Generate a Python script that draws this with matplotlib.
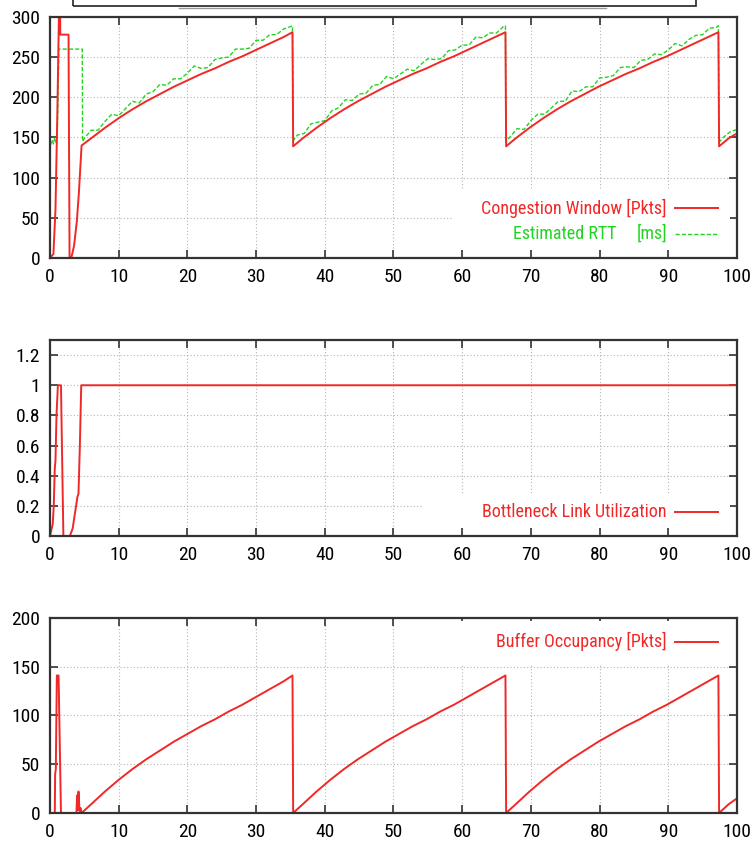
"""Congestion window, link utilization and buffer occupancy over time."""
import matplotlib
matplotlib.use("Agg")
import matplotlib.pyplot as plt
from matplotlib.lines import Line2D
from matplotlib.patches import Rectangle
from matplotlib.ticker import FormatStrFormatter, MultipleLocator

plt.rcParams["font.family"] = ["Roboto Condensed", "Liberation Sans", "DejaVu Sans"]

RED = "#f02828"
GREEN = "#22d422"
FRAME = "#333333"

# Congestion window [pkts]
cwnd_t = [0, 0.5, 0.8, 1.05, 1.3, 1.35, 1.45, 1.5, 2.7, 2.85,
          3.1, 3.5, 3.9, 4.2, 4.6,
          6, 8, 10, 12, 14, 16, 18, 20, 22, 24, 26, 28, 30, 32, 34, 35.3,
          35.4, 36.8, 38.8, 40.8, 42.8, 44.8, 46.8, 48.8, 50.8, 52.8, 54.8,
          56.8, 58.8, 60.8, 62.8, 64.8, 66.3,
          66.4, 67.8, 69.8, 71.8, 73.8, 75.8, 77.8, 79.8, 81.8, 83.8, 85.8,
          87.8, 89.8, 91.8, 93.8, 95.8, 97.3,
          97.4, 98.8, 100]
cwnd = [0, 5, 60, 170, 300, 330, 330, 278, 278, 0,
        0, 15, 45, 80, 140,
        149, 162, 174, 185, 195, 204, 213, 221, 229, 236, 244, 251, 259,
        267, 275, 281,
        139, 149, 162, 174, 185, 195, 204, 213, 221, 229, 236, 244, 251,
        259, 267, 275, 281,
        139, 149, 162, 174, 185, 195, 204, 213, 221, 229, 236, 244, 251,
        259, 267, 275, 281,
        139, 149, 155]

# Estimated RTT [ms]
rtt_t = ([0, 0.05, 0.3, 0.5, 0.7, 0.9, 1.05, 1.3, 4.7, 4.75]
         + list(range(5, 36)) + [35.3, 35.4]
         + list(range(36, 67)) + [66.3, 66.4]
         + list(range(67, 98)) + [97.3, 97.4, 98, 99, 100])
rtt = ([0, 140, 147, 142, 150, 144, 150, 260, 260, 145]
       + [149, 159, 159, 170, 179, 177, 186, 195, 193, 204, 207, 216, 215,
          223, 223, 230, 239, 236, 237, 247, 249, 250, 260, 260, 261, 271,
          271, 278, 278, 285, 288]
       + [289, 146]
       + [153, 155, 167, 169, 171, 183, 187, 197, 196, 204, 205, 215, 216,
          226, 223, 229, 235, 233, 241, 248, 247, 248, 258, 259, 265, 265,
          275, 274, 280, 280, 288]
       + [289, 145]
       + [151, 161, 160, 171, 179, 179, 187, 195, 195, 208, 207, 213, 213,
          224, 225, 227, 237, 238, 237, 246, 247, 254, 253, 259, 267, 264,
          272, 277, 278, 286, 287]
       + [289, 144, 150, 157, 160])

# Bottleneck link utilization
util_t = [0, 0.4, 0.55, 0.7, 0.8, 0.95, 1.15, 1.6, 1.95, 2.9,
          3.3, 3.7, 4.0, 4.15, 4.35, 4.55, 100]
util = [0, 0.08, 0.2, 0.45, 0.5, 0.8, 1.0, 1.0, 0, 0,
        0.05, 0.17, 0.26, 0.28, 0.6, 1.0, 1.0]

# Buffer occupancy [pkts]
buf_t = [0, 0.7, 0.75, 0.85, 1.0, 1.25, 1.6,
         3.85, 3.95, 4.05, 4.15, 4.3, 4.45, 4.6,
         6, 8, 10, 12, 14, 16, 18, 20, 22, 24, 26, 28, 30, 32, 34, 35.3,
         35.4, 36.8, 38.8, 40.8, 42.8, 44.8, 46.8, 48.8, 50.8, 52.8, 54.8,
         56.8, 58.8, 60.8, 62.8, 64.8, 66.3,
         66.4, 67.8, 69.8, 71.8, 73.8, 75.8, 77.8, 79.8, 81.8, 83.8, 85.8,
         87.8, 89.8, 91.8, 93.8, 95.8, 97.3,
         97.4, 98.8, 100]
buf = [0, 0, 40, 45, 141, 141, 0,
       0, 18, 3, 22, 2, 5, 0,
       9, 22, 34, 45, 55, 64, 73, 81, 89, 96, 104, 111, 119, 127, 135, 141,
       0, 9, 22, 34, 45, 55, 64, 73, 81, 89, 96, 104, 111, 119, 127, 135, 141,
       0, 9, 22, 34, 45, 55, 64, 73, 81, 89, 96, 104, 111, 119, 127, 135, 141,
       0, 9, 15]


def style_axes(ax, ymax, ystep, fmt):
    """gnuplot look: inward mirrored ticks, dotted grey grid."""
    ax.set_xlim(0, 100)
    ax.set_ylim(0, ymax)
    ax.xaxis.set_major_locator(MultipleLocator(10))
    ax.yaxis.set_major_locator(MultipleLocator(ystep))
    ax.yaxis.set_major_formatter(FormatStrFormatter(fmt))
    ax.set_axisbelow(True)
    ax.grid(True, color="#b4b4b4", linestyle=(0, (1, 2)), linewidth=0.8)
    ax.tick_params(direction="in", length=6, width=1.2, color=FRAME,
                   top=True, right=True, labelsize=14, pad=7)
    for side in ax.spines.values():
        side.set_color(FRAME)
        side.set_linewidth(1.6)


def key_box(ax, x0, y0, x1, y1):
    """White patch that hides the grid behind the key, as gnuplot does."""
    ax.add_patch(Rectangle((x0, y0), x1 - x0, y1 - y0, transform=ax.transAxes,
                           facecolor="white", edgecolor="none", zorder=1))


def key_row(ax, y, label, color, **line_kw):
    ax.text(0.898, y, label, transform=ax.transAxes, ha="right", va="center",
            color=color, fontsize=13, zorder=3)
    ax.plot([0.910, 0.972], [y, y], transform=ax.transAxes, color=color,
            zorder=3, **line_kw)


fig = plt.figure(figsize=(7.55, 8.52), dpi=100)

ax1 = fig.add_axes([0.0662, 0.6972, 0.9099, 0.2829])
ax2 = fig.add_axes([0.0662, 0.3709, 0.9099, 0.2300])
ax3 = fig.add_axes([0.0662, 0.0458, 0.9099, 0.2289])

# top: cwnd and RTT
style_axes(ax1, 300, 50, "%g")
key_box(ax1, 0.585, 0.033, 0.99, 0.282)
ax1.plot(rtt_t, rtt, color=GREEN, linewidth=1.0, dashes=(3, 1.5), zorder=2)
ax1.plot(cwnd_t, cwnd, color=RED, linewidth=1.4, zorder=2)
key_row(ax1, 0.207, "Congestion Window [Pkts]", RED, linewidth=1.4)
ax1.text(0.825, 0.100, "Estimated RTT", transform=ax1.transAxes, ha="right",
         va="center", color=GREEN, fontsize=13, zorder=3)
key_row(ax1, 0.100, "[ms]", GREEN, linewidth=1.0, dashes=(3, 1.5))

# middle: utilization
style_axes(ax2, 1.3, 0.2, "%g")
key_box(ax2, 0.543, 0.046, 0.99, 0.209)
ax2.plot(util_t, util, color=RED, linewidth=1.4, zorder=2)
key_row(ax2, 0.122, "Bottleneck Link Utilization", RED, linewidth=1.4)

# bottom: buffer occupancy
style_axes(ax3, 200, 50, "%g")
key_box(ax3, 0.59, 0.76, 0.99, 0.985)
ax3.plot(buf_t, buf, color=RED, linewidth=1.4, zorder=2)
key_row(ax3, 0.877, "Buffer Occupancy [Pkts]", RED, linewidth=1.4)

# cropped title frame at the very top
fig.add_artist(Rectangle((73 / 755, 1 - 6 / 852), (696 - 73) / 755, 0.05,
                         transform=fig.transFigure, fill=False,
                         edgecolor="#222222", linewidth=1.2))
fig.add_artist(Line2D([179 / 755, 606 / 755], [1 - 8 / 852] * 2,
                      transform=fig.transFigure, color="#9a9a9a", linewidth=1))

fig.savefig("out.png", dpi=100)
